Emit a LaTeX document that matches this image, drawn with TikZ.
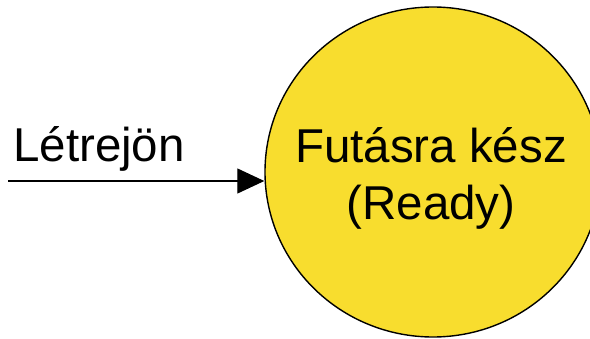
\documentclass[tikz,border=0pt]{standalone}
\usepackage{fontspec}
\setmainfont{Liberation Sans}
\usepackage{tikz}
\usetikzlibrary{arrows.meta,shapes.geometric}
\definecolor{readyyellow}{RGB}{248,221,46}

\begin{document}
\begin{tikzpicture}[x=1pt,y=1pt,>={Triangle[length=27pt,width=25pt]},
    statenode/.style={ellipse,draw,fill=readyyellow,line width=1.4pt,minimum width=336pt,minimum height=330pt,inner sep=0pt},
    bigtext/.style={font=\fontsize{47.5}{57}\selectfont,inner sep=0pt}]
  \useasboundingbox (0,0) rectangle (590,338);
  \node[statenode] (ready) at (433,166) {};
  \node[bigtext,align=center,anchor=base] (readytxt) at (431,118) {Futásra kész\\(Ready)};
  \coordinate (start) at (8,157);
  \node[bigtext,anchor=base west] (create) at (13,176) {Létrejön};
  \draw[->, line width=1.2pt] (start) -- (ready.west |- start);
\end{tikzpicture}
\end{document}
